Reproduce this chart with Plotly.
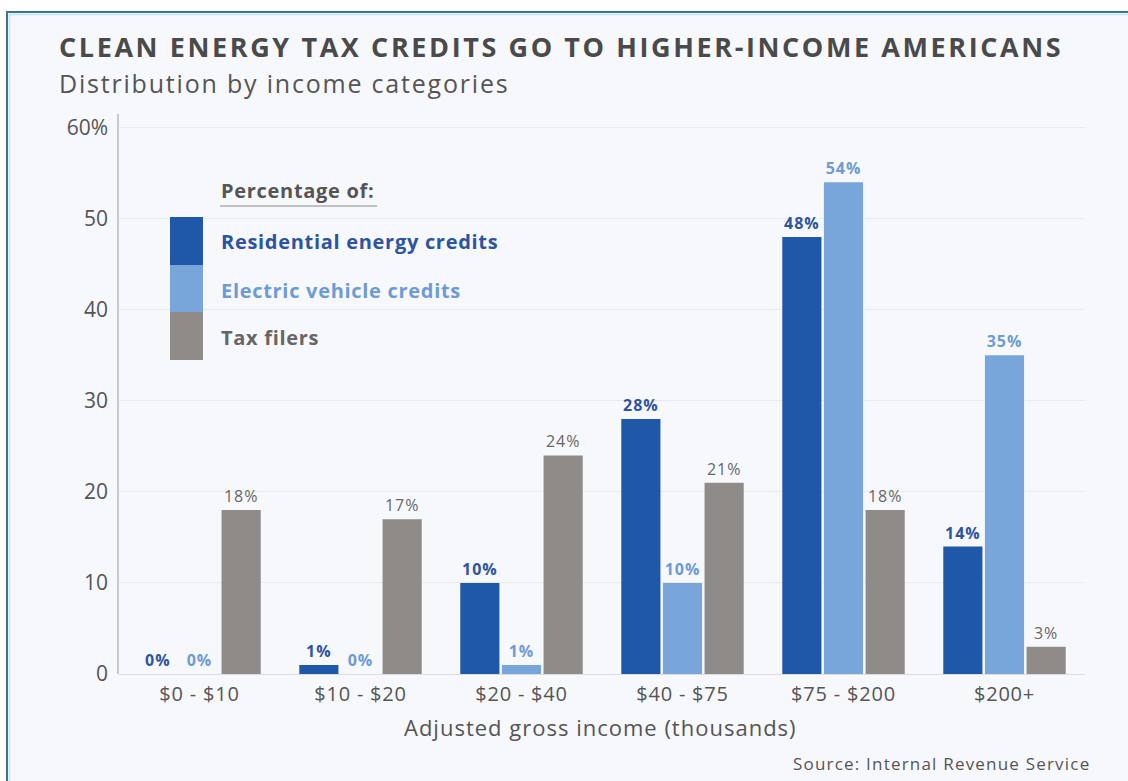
import plotly.graph_objects as go

# Income brackets (thousands of dollars) and each group's share, in percent
categories = ["$0 - $10", "$10 - $20", "$20 - $40", "$40 - $75", "$75 - $200", "$200+"]
residential = [0, 1, 10, 28, 48, 14]
electric_vehicle = [0, 0, 1, 10, 54, 35]
tax_filers = [18, 17, 24, 21, 18, 3]

series_names = ["Residential energy credits", "Electric vehicle credits", "Tax filers"]
y_ticks = [0, 10, 20, 30, 40, 50, 60]
y_tick_labels = ["0", "10", "20", "30", "40", "50", "60%"]

DARK = "#1f58a9"
LIGHT = "#79a6da"
GRAY = "#8e8b88"
BG = "#f7f8fc"
FONT = "Open Sans"

W, H = 1128, 781
L, R, T, B = 119, 43, 114, 107
PW, PH = W - L - R, H - T - B


def px(x):
    return (x - L) / PW


def py(y):
    return (H - B - y) / PH


def spaced(text, ls):
    return f'<span style="letter-spacing:{ls}px">{text}</span>'


fig = go.Figure()

label_styles = [
    (residential, DARK, "#2d54a0", True),
    (electric_vehicle, LIGHT, "#6d9bd6", True),
    (tax_filers, GRAY, "#676767", False),
]
for name, (vals, color, tcolor, bold) in zip(series_names, label_styles):
    fig.add_trace(go.Bar(
        x=categories, y=vals, name=name,
        marker=dict(color=color, line=dict(width=0)),
        text=[spaced(f"<b>{v}%</b>" if bold else f"{v}%", 1.0) for v in vals],
        textposition="outside", cliponaxis=False,
        textfont=dict(family=FONT, size=16, color=tcolor),
        hoverinfo="skip",
    ))

shapes = [
    # framed card
    dict(type="rect", xref="paper", yref="paper",
         x0=px(7), x1=px(W + 20), y0=py(12), y1=py(H + 20),
         fillcolor=BG, line=dict(color="#3f7396", width=2), layer="below"),
    dict(type="line", xref="paper", yref="paper",
         x0=px(9), x1=px(W + 20), y0=py(14.5), y1=py(14.5),
         line=dict(color="#bfe6f0", width=1.5), layer="below"),
    dict(type="line", xref="paper", yref="paper",
         x0=px(9.5), x1=px(9.5), y0=py(14), y1=py(H + 20),
         line=dict(color="#bfe6f0", width=1.5), layer="below"),
    # y-axis spine
    dict(type="line", xref="paper", yref="paper",
         x0=px(118), x1=px(118), y0=0, y1=1, line=dict(color="#9a9a9a", width=1)),
    # legend swatch column
    dict(type="rect", xref="paper", yref="paper",
         x0=px(170), x1=px(203), y0=py(217), y1=py(265),
         fillcolor=DARK, line=dict(width=0)),
    dict(type="rect", xref="paper", yref="paper",
         x0=px(170), x1=px(203), y0=py(265), y1=py(312),
         fillcolor=LIGHT, line=dict(width=0)),
    dict(type="rect", xref="paper", yref="paper",
         x0=px(170), x1=px(203), y0=py(312), y1=py(360),
         fillcolor=GRAY, line=dict(width=0)),
    dict(type="line", xref="paper", yref="paper",
         x0=px(220), x1=px(377), y0=py(206), y1=py(206),
         line=dict(color="#8a8a8a", width=1.2)),
]

annotations = [
    dict(text=spaced("<b>CLEAN ENERGY TAX CREDITS GO TO HIGHER-INCOME AMERICANS</b>", 2.6),
         x=px(57), y=py(46), xanchor="left", yanchor="middle",
         font=dict(family=FONT, size=27, color="#4a4a4a")),
    dict(text=spaced("Distribution by income categories", 1.8),
         x=px(57), y=py(83), xanchor="left", yanchor="middle",
         font=dict(family=FONT, size=25, color="#555555")),
    dict(text=spaced("<b>Percentage of:</b>", 0.7),
         x=px(219), y=py(191), xanchor="left", yanchor="middle",
         font=dict(family=FONT, size=20, color="#555555")),
    dict(text=spaced("<b>" + series_names[0] + "</b>", 0.7),
         x=px(219), y=py(241), xanchor="left", yanchor="middle",
         font=dict(family=FONT, size=20, color="#2d54a0")),
    dict(text=spaced("<b>" + series_names[1] + "</b>", 0.7),
         x=px(219), y=py(290), xanchor="left", yanchor="middle",
         font=dict(family=FONT, size=20, color="#6d9bd6")),
    dict(text=spaced("<b>" + series_names[2] + "</b>", 0.7),
         x=px(219), y=py(337), xanchor="left", yanchor="middle",
         font=dict(family=FONT, size=20, color="#666666")),
    dict(text=spaced("Adjusted gross income (thousands)", 1.0),
         x=px(600), y=py(727), xanchor="center", yanchor="middle",
         font=dict(family=FONT, size=22, color="#555555")),
    dict(text=spaced("Source: Internal Revenue Service", 1.2),
         x=px(1092), y=py(763), xanchor="right", yanchor="middle",
         font=dict(family=FONT, size=17, color="#555555")),
]
for a in annotations:
    a.update(xref="paper", yref="paper", showarrow=False)

fig.update_layout(
    width=W, height=H,
    margin=dict(l=L, r=R, t=T, b=B),
    paper_bgcolor="white", plot_bgcolor=BG,
    barmode="group", bargap=0.224, bargroupgap=0.06,
    showlegend=False,
    shapes=shapes, annotations=annotations,
    font=dict(family=FONT, color="#555555"),
    xaxis=dict(showgrid=False, showline=False, ticks="",
               tickvals=categories,
               ticktext=[spaced(c, 0.8) for c in categories],
               ticklabelstandoff=6,
               tickfont=dict(family=FONT, size=20, color="#555555")),
    yaxis=dict(range=[0, 61.5], tickvals=y_ticks, ticktext=y_tick_labels,
               showgrid=True, gridcolor="#e8eaee", gridwidth=1,
               zeroline=True, zerolinecolor="#dcdde0", zerolinewidth=1,
               showline=False, ticks="", ticklabelstandoff=10,
               tickfont=dict(family=FONT, size=21, color="#555555")),
)

fig.write_html("out.html")
